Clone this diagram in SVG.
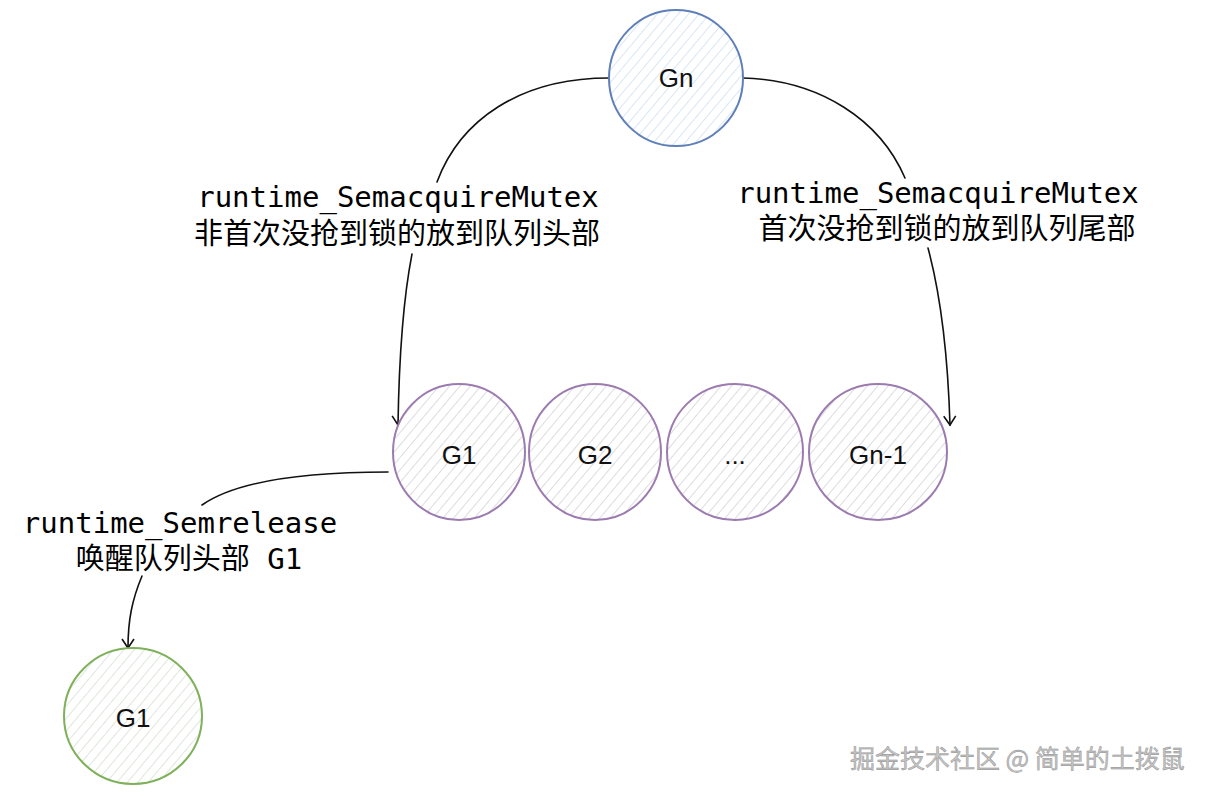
<svg xmlns="http://www.w3.org/2000/svg" width="1208" height="796" viewBox="0 0 1208 796">
<style>
.lbl{font-family:"DejaVu Sans Mono","Noto Sans CJK SC",monospace;font-size:29px;fill:#000;text-anchor:middle}
.nt{font-family:"Liberation Sans","Noto Sans",sans-serif;font-size:26px;fill:#111;text-anchor:middle;dominant-baseline:central}
.conn{fill:none;stroke:#111;stroke-width:1.6;stroke-linecap:round}
.blue{stroke:#5e7fb8;stroke-width:2;fill:url(#hb)}
.purp{stroke:#9c7bb0;stroke-width:2;fill:url(#hp)}
.grn{stroke:#7fb05a;stroke-width:2;fill:url(#hg)}
.wm{font-family:"Noto Sans CJK SC","Noto Sans",sans-serif;font-size:25px;fill:#c4c4c4;stroke:#8a8a8a;stroke-width:0.4}
</style>
<defs>
<pattern id="hb" width="8" height="8" patternUnits="userSpaceOnUse" patternTransform="rotate(40)">
<rect width="8" height="8" fill="#fff"/><line x1="0" y1="0" x2="0" y2="8" stroke="#c9dcef" stroke-width="1.4"/></pattern>
<pattern id="hp" width="8" height="8" patternUnits="userSpaceOnUse" patternTransform="rotate(40)">
<rect width="8" height="8" fill="#fff"/><line x1="0" y1="0" x2="0" y2="8" stroke="#cfcdd2" stroke-width="1.4"/></pattern>
<pattern id="hg" width="8" height="8" patternUnits="userSpaceOnUse" patternTransform="rotate(40)">
<rect width="8" height="8" fill="#fff"/><line x1="0" y1="0" x2="0" y2="8" stroke="#d3dbd0" stroke-width="1.4"/></pattern>
<marker id="arr" viewBox="0 0 20 20" refX="10" refY="10" markerWidth="20" markerHeight="20" markerUnits="userSpaceOnUse" orient="auto">
<path d="M1,4 L10,10 L1,16" fill="none" stroke="#111" stroke-width="1.6"/></marker>
</defs>
<rect width="1208" height="796" fill="#fff"/>
<g id="connectors">
<path class="conn" d="M609,78 C520,78 460,120 437,182"/>
<path class="conn" d="M412,254 C403,300 399,360 398,425" marker-end="url(#arr)"/>
<path class="conn" d="M743,78 C820,80 880,120 905,178"/>
<path class="conn" d="M928,248 C942,300 948,360 950,425" marker-end="url(#arr)"/>
<path class="conn" d="M388,472 C300,472 235,482 202,505"/>
<path class="conn" d="M142,576 C132,600 128,620 128,648" marker-end="url(#arr)"/>
</g>
<g id="label-left">
<text class="lbl" x="398" y="207">runtime_SemacquireMutex</text>
<text class="lbl" x="397" y="244">非首次没抢到锁的放到队列头部</text>
</g>
<g id="label-right">
<text class="lbl" x="938" y="203">runtime_SemacquireMutex</text>
<text class="lbl" x="947" y="239">首次没抢到锁的放到队列尾部</text>
</g>
<g id="label-release">
<text class="lbl" x="180" y="533">runtime_Semrelease</text>
<text class="lbl" x="189" y="569">唤醒队列头部 G1</text>
</g>
<g id="node-gn">
<ellipse class="blue" cx="676" cy="78" rx="67" ry="68"/>
<text class="nt" x="676" y="78">Gn</text>
</g>
<g id="node-g1">
<ellipse class="purp" cx="459" cy="452" rx="66" ry="68"/>
<text class="nt" x="459" y="455">G1</text>
</g>
<g id="node-g2">
<ellipse class="purp" cx="595" cy="452" rx="66" ry="68"/>
<text class="nt" x="595" y="455">G2</text>
</g>
<g id="node-dots">
<ellipse class="purp" cx="735" cy="452" rx="68" ry="68"/>
<text class="nt" x="735" y="455">...</text>
</g>
<g id="node-gn1">
<ellipse class="purp" cx="878" cy="452" rx="69" ry="68"/>
<text class="nt" x="878" y="455">Gn-1</text>
</g>
<g id="node-g1-woken">
<ellipse class="grn" cx="133" cy="716" rx="69" ry="68"/>
<text class="nt" x="133" y="718">G1</text>
</g>
<text class="wm" x="850" y="768">掘金技术社区 @ 简单的土拨鼠</text>
</svg>
